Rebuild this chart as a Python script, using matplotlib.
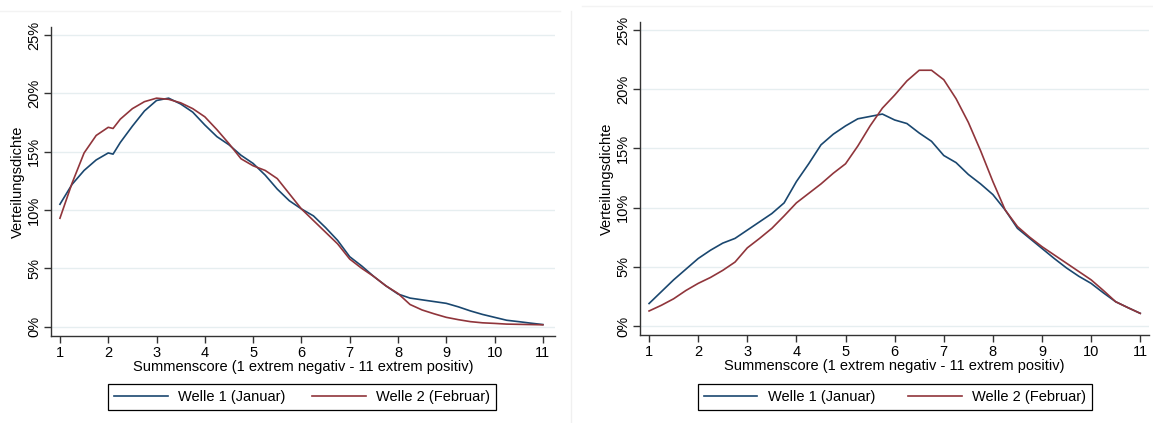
import matplotlib
matplotlib.use("Agg")
import matplotlib.pyplot as plt
from matplotlib.lines import Line2D

plt.rcParams['font.family'] = ['Liberation Sans', 'DejaVu Sans']
plt.rcParams['font.size'] = 10

# Welle-Vergleich, linkes Panel
x_links = [1, 1.25, 1.5, 1.75, 2, 2.1, 2.25, 2.5, 2.75, 3, 3.25, 3.5, 3.75, 4, 4.25,
           4.5, 4.75, 5, 5.25, 5.5, 5.75, 6, 6.25, 6.5, 6.75, 7, 7.25, 7.5, 7.75, 8,
           8.25, 8.5, 8.75, 9, 9.25, 9.5, 9.75, 10, 10.25, 10.5, 10.75, 11]
jan_links = [10.5, 12.2, 13.4, 14.3, 14.9, 14.8, 15.8, 17.2, 18.5, 19.4, 19.6, 19.1,
             18.4, 17.3, 16.3, 15.6, 14.7, 14.0, 13.0, 11.8, 10.8, 10.1, 9.5, 8.5,
             7.4, 6.0, 5.2, 4.3, 3.5, 2.8, 2.45, 2.3, 2.15, 2.0, 1.7, 1.35, 1.05,
             0.8, 0.55, 0.43, 0.3, 0.18]
feb_links = [9.3, 12.3, 14.9, 16.4, 17.1, 17.0, 17.8, 18.7, 19.3, 19.6, 19.5, 19.2,
             18.7, 18.0, 16.9, 15.7, 14.4, 13.8, 13.4, 12.7, 11.4, 10.1, 9.1, 8.1,
             7.1, 5.8, 5.0, 4.3, 3.5, 2.85, 1.9, 1.43, 1.1, 0.8, 0.6, 0.43, 0.33,
             0.28, 0.22, 0.2, 0.18, 0.16]

# rechtes Panel
x_rechts = [1, 1.25, 1.5, 1.75, 2, 2.25, 2.5, 2.75, 3, 3.25, 3.5, 3.75, 4, 4.25, 4.5,
            4.75, 5, 5.25, 5.5, 5.75, 6, 6.25, 6.5, 6.75, 7, 7.25, 7.5, 7.75, 8,
            8.25, 8.5, 8.75, 9, 9.25, 9.5, 9.75, 10, 10.25, 10.5, 10.75, 11]
jan_rechts = [1.9, 2.9, 3.9, 4.8, 5.7, 6.4, 7.0, 7.4, 8.1, 8.8, 9.5, 10.4, 12.2, 13.7,
              15.3, 16.2, 16.9, 17.5, 17.7, 17.9, 17.4, 17.1, 16.3, 15.6, 14.4, 13.8,
              12.8, 12.0, 11.1, 9.8, 8.25, 7.4, 6.55, 5.7, 4.9, 4.2, 3.6, 2.8, 2.05,
              1.55, 1.07]
feb_rechts = [1.27, 1.75, 2.3, 3.0, 3.6, 4.1, 4.7, 5.4, 6.6, 7.4, 8.25, 9.3, 10.4, 11.2,
              12.0, 12.9, 13.7, 15.2, 16.9, 18.4, 19.5, 20.7, 21.6, 21.6, 20.8, 19.2,
              17.2, 14.8, 12.2, 9.8, 8.4, 7.5, 6.7, 6.0, 5.3, 4.6, 3.9, 3.0, 2.05,
              1.55, 1.07]

labels = ['Welle 1 (Januar)', 'Welle 2 (Februar)']
xticks = list(range(1, 12))
yticks = [0, 5, 10, 15, 20, 25]
ytick_labels = ['0%', '5%', '10%', '15%', '20%', '25%']

blau = '#1a476f'
rot = '#90353b'
achse = '#333333'

fig = plt.figure(figsize=(11.53, 4.23), dpi=100)

# [left, bottom, width, height], xlim, ylim, legend box
panels = [
    ([0.0442, 0.2057, 0.4371, 0.7312], (0.814, 11.25), (-0.8, 25.73),
     (0.0937, 0.0284, 0.3365, 0.0662), x_links, jan_links, feb_links),
    ([0.5551, 0.2080, 0.4415, 0.7407], (0.816, 11.18), (-0.76, 25.7),
     (0.6051, 0.0284, 0.3417, 0.0662), x_rechts, jan_rechts, feb_rechts),
]

for pos, xl, yl, legbox, xs, jan, feb in panels:
    ax = fig.add_axes(pos)
    for y in yticks:
        ax.axhline(y, color='#e6eef0', lw=1.0, zorder=0)
    ax.plot(xs, jan, color=blau, lw=1.2)
    ax.plot(xs, feb, color=rot, lw=1.2)
    ax.set_xlim(*xl)
    ax.set_ylim(*yl)
    ax.set_xticks(xticks)
    ax.set_yticks(yticks)
    ax.set_yticklabels(ytick_labels, rotation=90, va='center')
    for s in ['top', 'right']:
        ax.spines[s].set_visible(False)
    for s in ['left', 'bottom']:
        ax.spines[s].set_color(achse)
        ax.spines[s].set_linewidth(1.0)
    ax.tick_params(direction='out', length=5, width=1.0, color=achse,
                   labelsize=10.5, pad=2)
    ax.set_xlabel('Summenscore (1 extrem negativ - 11 extrem positiv)',
                  fontsize=10.5, labelpad=0)
    ax.set_ylabel('Verteilungsdichte', fontsize=10.5, labelpad=2)

    handles = [Line2D([], [], color=blau, lw=1.2), Line2D([], [], color=rot, lw=1.2)]
    leg = fig.legend(handles, labels, loc='center', ncol=2, mode='expand',
                     bbox_to_anchor=legbox, bbox_transform=fig.transFigure,
                     fancybox=False, edgecolor='black', framealpha=1,
                     handlelength=3.7, handletextpad=0.7, columnspacing=1.6,
                     borderaxespad=0, fontsize=10.5)
    leg.get_frame().set_linewidth(0.9)

# dezente Rahmen der kombinierten Grafik
fig.add_artist(Line2D([571 / 1153, 571 / 1153], [0.0, 1 - 11 / 423],
                      transform=fig.transFigure, color='#f0f0f0', lw=1))
fig.add_artist(Line2D([0.0, 560 / 1153], [1 - 11 / 423, 1 - 11 / 423],
                      transform=fig.transFigure, color='#f3f3f3', lw=1))
fig.add_artist(Line2D([582 / 1153, 1.0], [1 - 6 / 423, 1 - 6 / 423],
                      transform=fig.transFigure, color='#f3f3f3', lw=1))

fig.savefig('out.png', dpi=100)
